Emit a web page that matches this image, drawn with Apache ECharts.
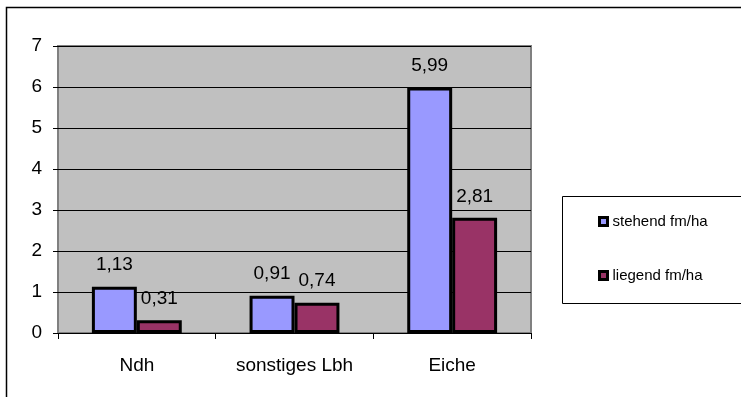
<!DOCTYPE html>
<html>
<head>
<meta charset="utf-8">
<script src="https://cdn.jsdelivr.net/npm/echarts@6/dist/echarts.min.js"></script>
<style>
  html, body { margin: 0; padding: 0; background: #fff; }
  #chart { width: 741px; height: 397px; }
</style>
</head>
<body>
<div id="chart"></div>
<script>
// Totholzvorrat nach Baumartengruppe
const categories = ['Ndh', 'sonstiges Lbh', 'Eiche'];
const stehend = [1.13, 0.91, 5.99];
const liegend = [0.31, 0.74, 2.81];
const seriesNames = ['stehend fm/ha', 'liegend fm/ha'];
const yTicks = { min: 0, max: 7, interval: 1 };

const FONT = '"Liberation Sans", Arial, sans-serif';
const fmt = p => p.value.toFixed(2).replace('.', ',');

const chart = echarts.init(document.getElementById('chart'), null, { renderer: 'canvas' });

const labelCfg = {
  show: true,
  position: 'top',
  distance: 12,
  color: '#000',
  fontFamily: FONT,
  fontSize: 19,
  formatter: fmt
};

chart.setOption({
  animation: false,
  backgroundColor: '#fff',
  graphic: [
    { type: 'rect', shape: { x: 6.5, y: 7.5, width: 900, height: 900 },
      style: { fill: 'none', stroke: '#000', lineWidth: 1.5 }, z: 0 },
    { type: 'rect', shape: { x: 562.5, y: 196.5, width: 300, height: 107 },
      style: { fill: '#fff', stroke: '#000', lineWidth: 1 }, z: 1 }
  ],
  grid: {
    left: 58, top: 46, right: 210, bottom: 64,
    show: true,
    backgroundColor: '#C0C0C0',
    borderColor: '#808080',
    borderWidth: 2
  },
  legend: {
    orient: 'vertical',
    left: 598,
    top: 214,
    padding: 0,
    itemWidth: 8,
    itemHeight: 8,
    itemGap: 39,
    icon: 'rect',
    z: 5,
    itemStyle: { borderColor: '#000', borderWidth: 3 },
    textStyle: { fontFamily: FONT, fontSize: 15, color: '#000' },
    data: seriesNames
  },
  xAxis: {
    type: 'category',
    data: categories,
    axisLine: { show: true, lineStyle: { color: '#000', width: 1 } },
    axisTick: { show: true, length: 6, lineStyle: { color: '#000' }, alignWithLabel: false },
    axisLabel: { color: '#000', fontFamily: FONT, fontSize: 19, margin: 23 },
    splitLine: { show: false }
  },
  yAxis: {
    type: 'value',
    min: yTicks.min, max: yTicks.max, interval: yTicks.interval,
    axisLine: { show: false },
    axisTick: { show: true, length: 5, lineStyle: { color: '#000' } },
    axisLabel: { color: '#000', fontFamily: FONT, fontSize: 19, margin: 16 },
    splitLine: { show: true, lineStyle: { color: '#000', width: 1 } }
  },
  series: [
    {
      name: seriesNames[0], type: 'bar', data: stehend,
      barGap: '0%', barCategoryGap: '43%',
      itemStyle: { color: '#9999FF', borderColor: '#000', borderWidth: 3 },
      label: labelCfg
    },
    {
      name: seriesNames[1], type: 'bar', data: liegend,
      itemStyle: { color: '#993366', borderColor: '#000', borderWidth: 3 },
      label: labelCfg
    }
  ]
});
</script>
</body>
</html>
